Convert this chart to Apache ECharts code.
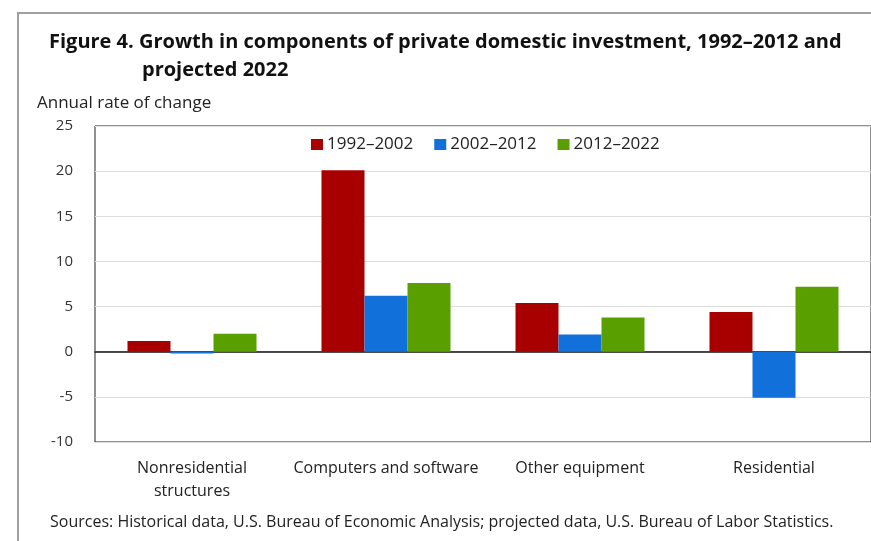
<!DOCTYPE html>
<html>
<head>
<meta charset="utf-8">
<script src="https://cdn.jsdelivr.net/npm/echarts@6/dist/echarts.min.js"></script>
<style>
  html, body { margin: 0; padding: 0; background: #fff; }
  #chart { width: 871px; height: 541px; }
</style>
</head>
<body>
<div id="chart"></div>
<script>
// Annual rate of change, by investment component and period
const categories = ['Nonresidential\nstructures', 'Computers and software', 'Other equipment', 'Residential'];
const periods = ['1992–2002', '2002–2012', '2012–2022'];
const values1992_2002 = [1.2, 20.1, 5.4, 4.4];
const values2002_2012 = [-0.2, 6.2, 1.9, -5.1];
const values2012_2022 = [2.0, 7.6, 3.8, 7.2];
const yTicks = { min: -10, max: 25, step: 5 };

const FONT = '"Open Sans", "Noto Sans", sans-serif';
const colors = ['#a80000', '#1170d9', '#5a9f00'];
const seriesValues = [values1992_2002, values2002_2012, values2012_2022];

const chart = echarts.init(document.getElementById('chart'), null, { renderer: 'canvas' });
chart.setOption({
  animation: false,
  backgroundColor: '#fff',
  color: colors,
  title: [
    {
      text: 'Figure 4. Growth in components of private domestic investment, 1992–2012 and',
      left: 49, top: 32, padding: 0,
      textStyle: { fontFamily: FONT, fontWeight: 'bold', fontSize: 20, color: '#111' }
    },
    {
      text: 'projected 2022',
      left: 142, top: 60, padding: 0,
      textStyle: { fontFamily: FONT, fontWeight: 'bold', fontSize: 20, color: '#111' }
    },
    {
      text: 'Annual rate of change',
      left: 37, top: 95, padding: 0,
      textStyle: { fontFamily: FONT, fontWeight: 'normal', fontSize: 17, color: '#222' }
    },
    {
      text: 'Sources: Historical data, U.S. Bureau of Economic Analysis; projected data, U.S. Bureau of Labor Statistics.',
      left: 50, top: 514, padding: 0,
      textStyle: { fontFamily: FONT, fontWeight: 'normal', fontSize: 16, color: '#222' }
    }
  ],
  graphic: [
    {
      type: 'rect', silent: true, z: -1,
      shape: { x: 18, y: 13, width: 900, height: 600 },
      style: { fill: 'none', stroke: '#a0a0a0', lineWidth: 2 }
    }
  ],
  legend: {
    data: periods,
    left: 311, top: 136, padding: 0,
    itemWidth: 12, itemHeight: 11, itemGap: 21,
    icon: 'rect',
    textStyle: { fontFamily: FONT, fontSize: 17, color: '#222', padding: [0, 0, 0, -1] }
  },
  grid: {
    left: 95, right: -6, top: 126, bottom: 99,
    show: true, borderColor: '#222', borderWidth: 1
  },
  xAxis: {
    type: 'category',
    data: categories,
    axisLine: { onZero: true, lineStyle: { color: '#111', width: 1.5 } },
    axisTick: { show: false },
    axisLabel: {
      margin: 15, lineHeight: 23,
      fontFamily: FONT, fontSize: 16, color: '#222', interval: 0
    }
  },
  yAxis: {
    type: 'value',
    min: yTicks.min, max: yTicks.max, interval: yTicks.step,
    axisLine: { show: false },
    axisTick: { show: false },
    axisLabel: { margin: 22, fontFamily: FONT, fontSize: 15, color: '#333' },
    splitLine: { lineStyle: { color: '#dedede', width: 1 } }
  },
  series: periods.map((name, i) => ({
    name,
    type: 'bar',
    data: seriesValues[i],
    barGap: '0%',
    barCategoryGap: '33.5%'
  }))
});
</script>
</body>
</html>
